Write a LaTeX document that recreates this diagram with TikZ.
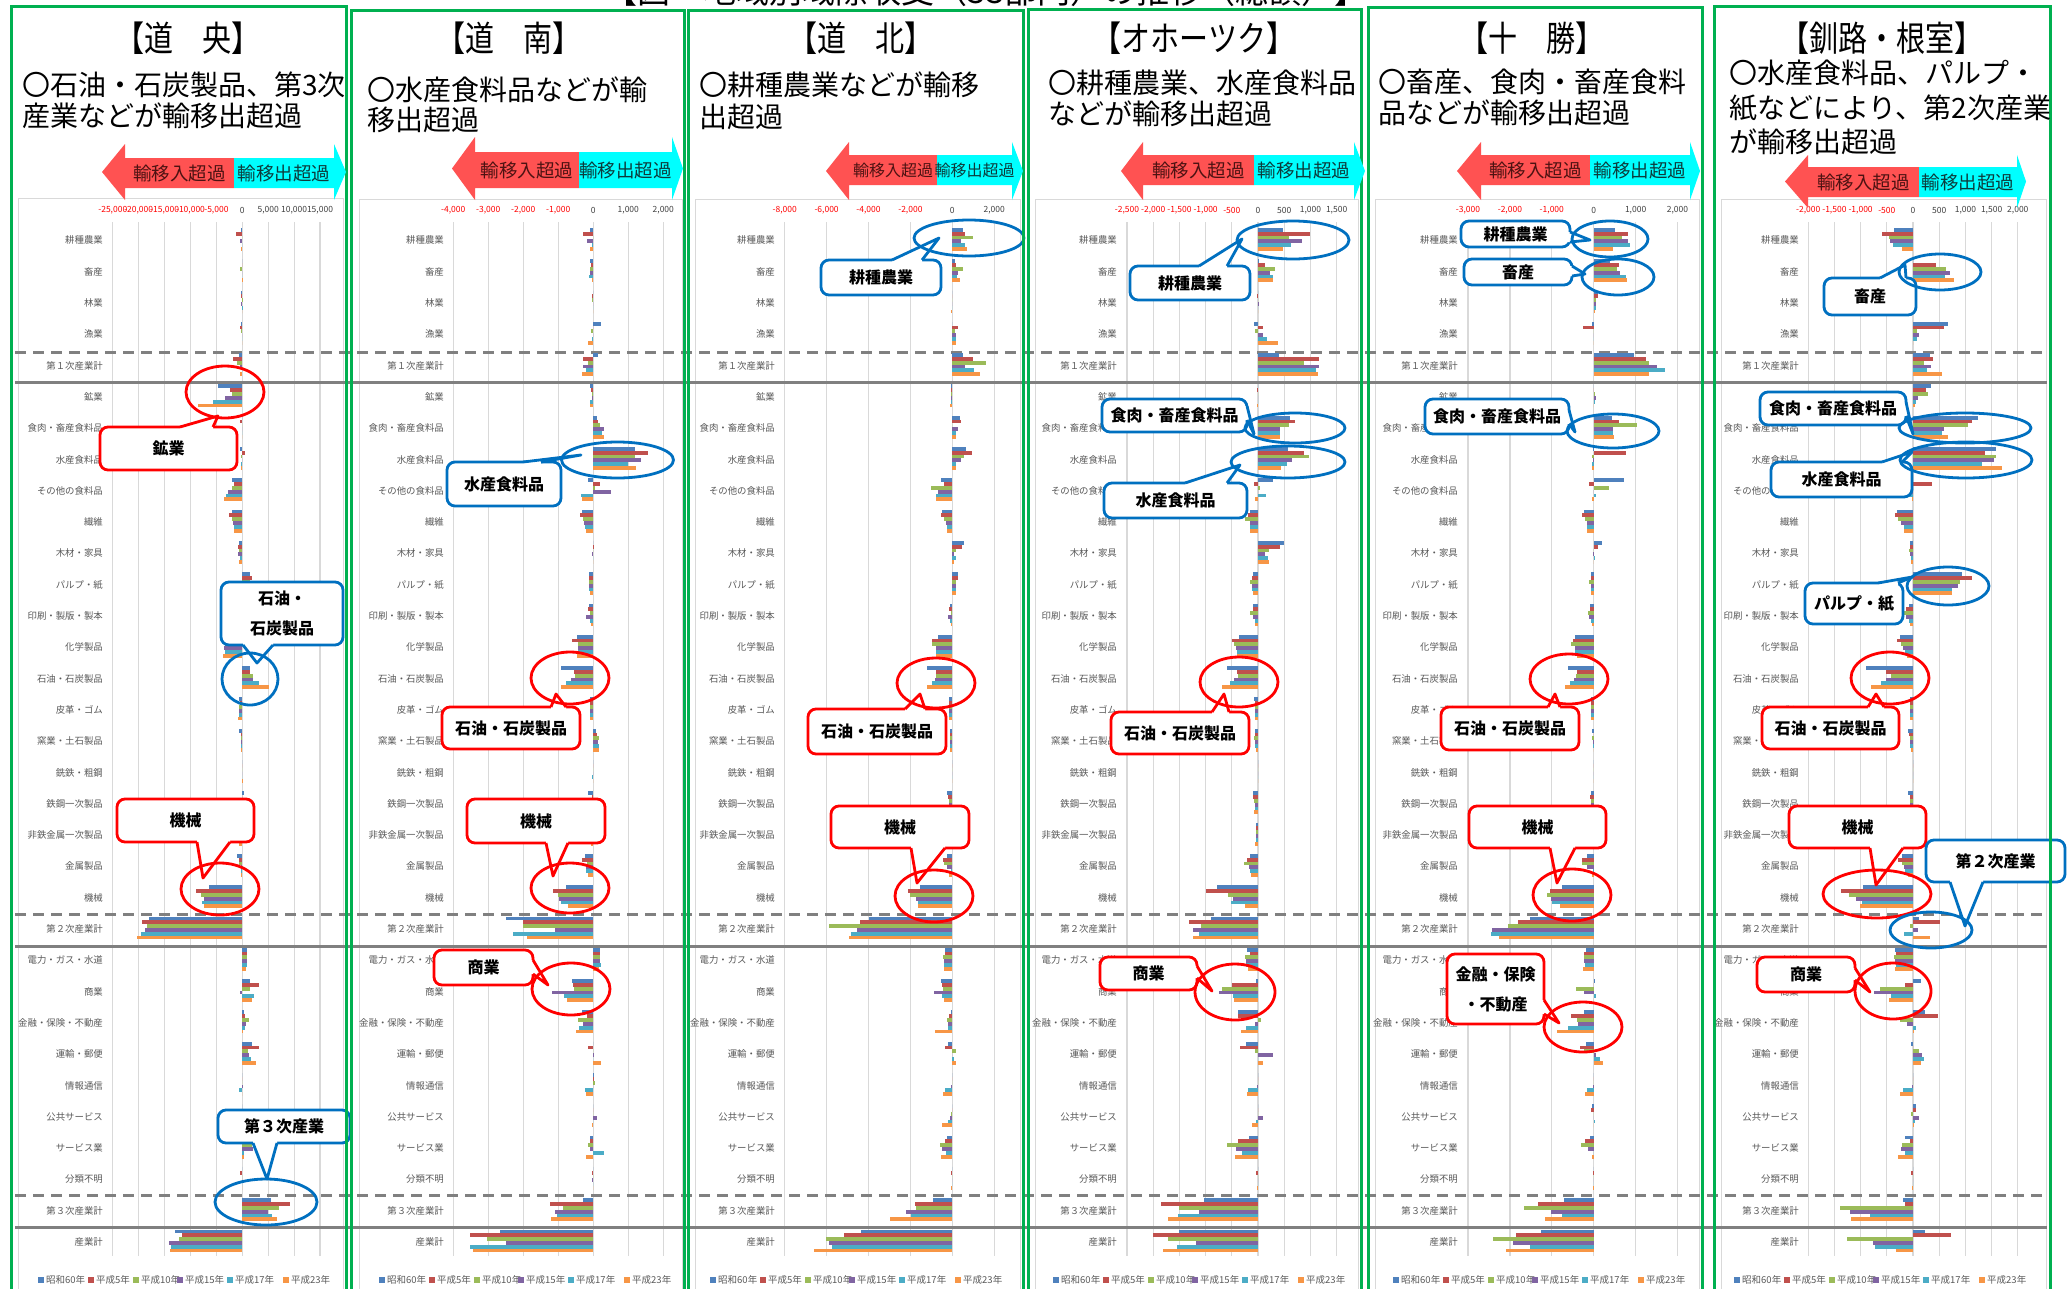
\documentclass[tikz,border=0pt]{standalone}
\usepackage{fontspec}
\setmainfont{Noto Sans CJK JP}
\newfontfamily\ttlfont[FakeStretch=0.83]{Noto Sans CJK JP}
\usetikzlibrary{calc}
\definecolor{bar1}{HTML}{4F81BD}
\definecolor{bar2}{HTML}{C0504D}
\definecolor{bar3}{HTML}{9BBB59}
\definecolor{bar4}{HTML}{8064A2}
\definecolor{bar5}{HTML}{4BACC6}
\definecolor{bar6}{HTML}{F79646}
\definecolor{grn}{HTML}{00B050}
\definecolor{cored}{HTML}{FF0000}
\definecolor{coblue}{HTML}{0070C0}
\definecolor{arrred}{HTML}{FF5252}
\definecolor{arrcyan}{HTML}{00FFFF}
\definecolor{arrtxtr}{HTML}{4D1212}
\definecolor{arrtxtc}{HTML}{0D3B3B}
\definecolor{lbl}{HTML}{595959}
\definecolor{gridc}{HTML}{D9D9D9}
\definecolor{sepc}{HTML}{808080}
\definecolor{tneg}{HTML}{FF0000}
\definecolor{tpos}{HTML}{404040}
\def\arrfs{18.5}
\tikzset{
 catlbl/.style={anchor=east, inner sep=0pt, text=lbl, font=\fontsize{9.4}{10}\selectfont},
 tick/.style={inner sep=0pt, font=\fontsize{8.5}{9}\selectfont},
 gridl/.style={draw=gridc, line width=1.2pt},
 dsep/.style={draw=sepc, line width=3pt, dash pattern=on 11pt off 7pt},
 ssep/.style={draw=sepc, line width=3pt},
 redc/.style={draw=cored, line width=2.8pt, line join=round},
 bluec/.style={draw=coblue, line width=2.8pt, line join=round},
 calltxt/.style={inner sep=0pt, align=center, font=\bfseries\fontsize{16}{30}\selectfont},
 panelbox/.style={draw=grn, line width=3pt},
 chartframe/.style={draw=gridc, line width=1pt},
 ttl/.style={font={\ttlfont\fontsize{35}{40}\selectfont}, inner sep=0pt},
 subt/.style={anchor=west, inner sep=0pt, font=\fontsize{28}{32}\selectfont},
 arrtxt/.style={inner sep=0pt, font=\fontsize{\arrfs}{20}\selectfont},
 legtxt/.style={anchor=west, inner sep=0pt, text=lbl, font=\fontsize{9.5}{10}\selectfont},
}
\def\cats{耕種農業,畜産,林業,漁業,第１次産業計,鉱業,食肉・畜産食料品,水産食料品,その他の食料品,繊維,木材・家具,パルプ・紙,印刷・製版・製本,化学製品,石油・石炭製品,皮革・ゴム,窯業・土石製品,銑鉄・粗鋼,鉄鋼一次製品,非鉄金属一次製品,金属製品,機械,第２次産業計,電力・ガス・水道,商業,金融・保険・不動産,運輸・郵便,情報通信,公共サービス,サービス業,分類不明,第３次産業計,産業計}
% #1 zero x, #2 label x, #3 legend x, #4 data, #5 id
\newcommand\drawpanel[5]{%
  \foreach \vals [count=\r] in {#4} {
    \foreach \v [count=\k] in \vals {
      \fill[bar\k] (#1,{240.4+31.3*(\r-1)-12.5+3.83*(\k-1)}) rectangle ++(\v,3.83);
    }
  }
  \foreach \c [count=\r] in \cats {\node[catlbl] (c#5-\r) at (#2,{240.4+31.3*(\r-1)}) {\c};}
  \foreach \o/\t [count=\k] in {0/昭和60年,50/平成5年,95/平成10年,139/平成15年,189/平成17年,245/平成23年} {
    \fill[bar\k] ({#3+\o},1277) rectangle ++(6,6);
    \node[legtxt] (lg#5-\k) at ({#3+\o+8},1280) {\t};
  }
}
% #1 zero, #2 step, #3 list k/color/text
\newcommand\axisticks[3]{%
  \foreach \k/\col/\t in {#3} {
    \draw[gridl] ({#1+\k*#2},222) -- ({#1+\k*#2},1256);
    \node[tick,text=\col] at ({#1+\k*#2},210) {\t};
  }
}
% callout: #1 style, #2 corner1, #3 corner2, #4 base1, #5 base2, #6 inward shift, #7 tip, #8 name, #9 text
\newcommand\callout[9]{%
  \draw[#1, fill=white, rounded corners=8pt] #2 rectangle #3;
  \fill[white] ($#4+#6$) -- #4 -- #7 -- #5 -- ($#5+#6$) -- cycle;
  \draw[#1] #4 -- #7 -- #5;
  \node[calltxt] (#8) at ($#2!0.5!#3$) {#9};
}
% top arrow: #1 tip, #2 head base, #3 split, #4 cyan head base, #5 cyan tip, #6 head top, #7 head bottom, #8 body top, #9 body bottom
\newcommand\toparrow[9]{%
  \fill[arrred] (#1,{(#6+#7)/2}) -- (#2,#6) -- (#2,#8) -- (#3,#8) -- (#3,#9) -- (#2,#9) -- (#2,#7) -- cycle;
  \fill[arrcyan] (#3,#8) -- (#4,#8) -- (#4,#6) -- (#5,{(#6+#7)/2}) -- (#4,#7) -- (#4,#9) -- (#3,#9) -- cycle;
  \node[arrtxt,text=arrtxtr] at ({(#2+#3)/2},{(#8+#9)/2}) {輸移入超過};
  \node[arrtxt,text=arrtxtc] at ({(#3+#4)/2},{(#8+#9)/2}) {輸移出超過};
}
\begin{document}
\begin{tikzpicture}[x=1pt,y=-1pt]
\useasboundingbox (0,0) rectangle (2069,1288);
\clip (0,0) rectangle (2069,1288);
\fill[white] (0,0) rectangle (2069,1288);
% chart frames
\draw[chartframe] (18,198) rectangle (343,1300);
\draw[chartframe] (359,199) rectangle (682,1300);
\draw[chartframe] (695,199) rectangle (1020,1300);
\draw[chartframe] (1035,199) rectangle (1358,1300);
\draw[chartframe] (1375,199) rectangle (1699,1300);
\draw[chartframe] (1721,199) rectangle (2046,1300);
% axes
\axisticks{242.3}{25.9}{-5/tneg/-25{,}000,-4/tneg/-20{,}000,-3/tneg/-15{,}000,-2/tneg/-10{,}000,-1/tneg/-5{,}000,0/tpos/0,1/tpos/5{,}000,2/tpos/10{,}000,3/tpos/15{,}000}
\axisticks{593.3}{35}{-4/tneg/-4{,}000,-3/tneg/-3{,}000,-2/tneg/-2{,}000,-1/tneg/-1{,}000,0/tpos/0,1/tpos/1{,}000,2/tpos/2{,}000}
\axisticks{952.3}{41.9}{-4/tneg/-8{,}000,-3/tneg/-6{,}000,-2/tneg/-4{,}000,-1/tneg/-2{,}000,0/tpos/0,1/tpos/2{,}000}
\axisticks{1258}{26.2}{-5/tneg/-2{,}500,-4/tneg/-2{,}000,-3/tneg/-1{,}500,-2/tneg/-1{,}000,-1/tneg/-500,0/tpos/0,1/tpos/500,2/tpos/1{,}000,3/tpos/1{,}500}
\axisticks{1593.7}{41.9}{-3/tneg/-3{,}000,-2/tneg/-2{,}000,-1/tneg/-1{,}000,0/tpos/0,1/tpos/1{,}000,2/tpos/2{,}000}
\axisticks{1913}{26.2}{-4/tneg/-2{,}000,-3/tneg/-1{,}500,-2/tneg/-1{,}000,-1/tneg/-500,0/tpos/0,1/tpos/500,2/tpos/1{,}000,3/tpos/1{,}500,4/tpos/2{,}000}
% separators
\draw[dsep] (15,352) -- (2047,352);
\draw[ssep] (15,382) -- (2047,382);
\draw[dsep] (15,914) -- (2047,914);
\draw[ssep] (15,946) -- (2047,946);
\draw[dsep] (15,1195) -- (2047,1195);
\draw[ssep] (15,1227) -- (2047,1227);
% panel 1
\drawpanel{242.3}{103}{38}{{-1,-6,0,-2.5,0,-1},{0,0,-2,0,0,1},{-1,-1,-0.5,-1,-0.5,0},{-1,-2,-1,0,0,0},{-3,-9,-5,-2,0,-2},{-24,-12.3,-10.7,-17.3,-29,-44},{0,-2,0,0,0,0},{-2,3,-1,0,-1,-1},{-10,-8.3,-10,-14.7,-16.7,-18.3},{-10.7,-13,-10,-9.7,-8,-8},{-3,-4,-3.7,-4,-2.3,-3},{8,10,7.3,6.3,5,5},{-1,0,-1,0,1,-0.5},{-13,-18,-17,-18,-17,-19},{7.7,7.7,10.3,11,16.3,26.3},{-3,-2,-3,-3,-3,-4},{-3,-1,-1,-1.5,-1,-1},{0,0,0,0,0,1},{2,0,0,1,7,8},{-1,-2,-2,-2,-2,-3},{-5,-3,-3,-1,-1,-1},{-33,-46,-41,-38,-40,-38},{-93,-100,-95,-97,-101,-105},{5,5,5,5,5,4},{7.7,17,7.3,-2,11.7,9.7},{2,3,7,4,3,1},{9.3,16.3,5.7,6.3,8.3,13.7},{0,0,0,1,-3,0},{0,0,0,-1,-1,0},{3,6,10,11,2,2},{0,-2,0,0,0,0},{29,47.7,36.3,26,29.7,34.3},{-67,-60.7,-63.3,-73,-71.7,-72.3}}{1}
% panel 2
\drawpanel{593.3}{444}{379}{{-3,-10,0,-6,-1,-3},{-3,-2,-3,-3,-4,-1},{0,-1,-1,0,0,0},{8,0,-2,0,-1,-5},{5,-10.7,-5.3,-10,-7,-11},{-3,-2,-1,-1,-3,-3},{3.3,5,6.7,11,8.3,10.3},{41.7,54.3,41.7,47.7,34.3,43},{-5.3,6.3,2,17.3,-12,-11},{-11.3,-13.7,-10.7,-9.7,-8.7,-7},{0,1,0,-1,0,0},{-4,-4,-4,-4,-4,-3},{-4,-5,-3,-7,-3,-2},{-16.3,-21.3,-15.3,-15.3,-15.3,-16.3},{-32,-19.7,-18,-22,-27.3,-32.3},{-3,-3,-3,-3,-3,-3},{3,4,6,5,6,6},{0,0,0,0,-1,0},{-5,-1,-3,-3,-4,-3},{-1,-2,-2,-2,-2,-2},{-8,-11,-6,-7,-7,-5},{-27.7,-40.7,-35.7,-34,-32.3,-25},{-87.7,-70,-70.7,-38.7,-80,-66.7},{7,7,7,7,8,6},{-21,-20.7,-19,-41,-29.7,-26.7},{-11.3,-6,-15.3,-10,-14.3,-17.3},{0,-5,0,1,0,8},{1,1,2,0,-8,-7},{0,0,0,4,0,-1},{-3,-3,-5,-3,11,-7},{0,-1,0,-1,0,0},{-10.7,-43,-30.3,-38.3,-36.3,-42.3},{-93.3,-123.7,-106.7,-87.7,-123.3,-120.7}}{2}
% panel 3
\drawpanel{952.3}{775}{710}{{10.3,12.3,20.7,8.7,12.7,14.7},{2.7,3.3,10.3,5.7,4.7,7.7},{0,0,0,0,0,-1},{0,5.3,2.7,3.3,4,4},{10.7,20.7,33.3,12.7,22,27.3},{-1,-1,-1,-1,-1,-2},{7.7,8.7,0,5.3,3.3,4},{13.7,19.3,12,8.7,4,4},{-11.3,-8.3,-21.7,-14.7,-16.3,-16.3},{-10.3,-11.3,-8.3,-6.3,-5.3,-5.3},{11.3,10,3.3,2,3.3,1.3},{6,5.3,3.3,4,3.3,4},{-2,-3,-1,-4,-2,-1},{-14,-20,-20,-16,-16,-16},{-25.3,-16,-16,-17,-20.3,-25},{-3,-3,-3,-3,-3,-3},{-2,-2,-2,-2,-2,-2},{0,0,0,0,0,0},{-5,-4,-3,-3,-3,-3},{-1,-1,-1,-1,-1,-1},{-5.3,-9.3,-8,-5.3,-1,-3.3},{-32.3,-44.7,-42.7,-36,-34.7,-34.3},{-83.7,-92.3,-123,-95.3,-101.3,-103.3},{-7,-7,-9,-8,-8,-8},{-11.3,-10.3,-9,-18.7,-10,-8},{-1.3,-3,-5,-4.3,-4.7,-17.7},{-4.7,-7,3.3,0,2,3.3},{0,0,0,-1,-7,-9},{0,0,-1,-2,-4,-10},{-5.3,-7,-12.3,-10.3,-6,-11.3},{0,-1,0,0,0,-1},{-19.7,-37.7,-36.7,-46,-41.3,-62},{-91.3,-108.3,-126,-123.7,-120.3,-138.3}}{3}
% panel 4
\drawpanel{1258}{1117}{1053}{{25,52.3,31.3,44.3,32.7,25},{1.3,7,17,12,14.7,14.7},{0,-1,0,1,0,0},{-4.3,4.7,-3,4.7,9.3,20.3},{21.3,61.3,45.7,61.3,58,59.7},{0,-1,0,0,0,-1},{32.3,36.7,30.7,22,22.3,22.3},{29.7,45.7,51,34,28.7,23},{14.7,-3.7,1.7,0,8.3,-3},{-7.7,-9.7,-12.7,-8.3,-8.3,-8.3},{26,21.7,11.3,6.7,9.7,11},{-5.3,-6,-7.7,-6,-6,-5.3},{-5,-5,-8,-5,-3,-3},{-19,-25.7,-23.7,-21.7,-21,-21},{-31,-21,-20,-23.7,-28,-35.7},{-4,-3,-3,-3,-3,-3},{-3,-3,-4,-3,-3,-2},{0,0,0,0,0,0},{-5,-5,-4,-3,-3,-4},{-2,-2,-2,-2,-2,-3},{-7.7,-11.3,-14.3,-9,-8.3,-6.7},{-41,-51.7,-30.3,-25,-27.3,-12.7},{-46.7,-69.3,-57,-64.7,-59,-65.3},{-10.7,-8.3,-13.3,-11.7,-11.7,-10},{-2,-25.7,-36,-38.7,-25.3,-23.7},{-19.7,-20,2.7,-3,-11.7,-16.7},{-11.7,-17.7,-3,15.3,0,4.7},{0,0,0,-1,-10,-11},{0,0,0,5,-2,-6},{-9.3,-20,-30.7,-21.7,-16,-22.7},{0,-2,0,0,0,-1},{-53.7,-96.7,-78.7,-58.7,-80.3,-89.7},{-78.7,-105.3,-90,-62,-81,-95.3}}{4}
% panel 5
\drawpanel{1593.7}{1458}{1393}{{21.3,34.7,28.3,34.7,36,19},{16.7,25.3,23,26.7,32.3,33.7},{4,4,2,2,2,1},{-2,-11,0,0,0,0},{40,52.7,55,63.3,71,55.3},{0,0,1,2,1,0},{18,25.3,43.3,19.7,19,20.3},{-1,32.3,-2,-1,-1.3,-2},{30.3,-5,15,0,2.7,-1.3},{-9.7,-11.7,-8.7,-6.7,-7,-6.7},{8,4,0,-1,1,0},{-3,-3,-5,-3,-3,-3},{-4,-4,-6,-5,-3,-2},{-19,-20.3,-22.3,-18.3,-19,-17},{-25.7,-16.7,-17.7,-19.7,-23.7,-28.7},{-3,-3,-3,-3,-3,-3},{-2,0,-2,-1,-1,0},{0,0,0,0,0,0},{-3,-4,-3,-3,-3,-2},{-1,-1,-1,-1,-1,-1},{-6.7,-12,-11.3,-6.7,-1,-1.3},{-31.7,-43.3,-46.3,-42.7,-41.7,-33.3},{-63.7,-75.3,-85.7,-101.7,-102.7,-94.3},{-8,-9.3,-10,-9.3,-8.7,-10.7},{1,0,-17.7,-10,2.7,0},{-9.3,-22.7,-16.7,-16,-25.3,-36.3},{-7.7,-13.3,-10,2,6,9.7},{0,0,0,-1,-7,-9},{-2,-3,0,0,1,0},{-4,-9,-12.3,-5.7,0,-1.3},{0,-1,0,0,0,-1},{-29.7,-55.7,-70,-43,-32,-48.7},{-52.7,-78,-100.7,-80.7,-63.3,-87.3}}{5}
% panel 6
\drawpanel{1913}{1799}{1734}{{-19,-30.7,-24.3,-23,-20.3,-11},{0,22.7,33,37,32.3,41},{0,-1,0,0,0,0},{35,31,4,6,4,0},{16.7,20,11.3,18,14.3,28.7},{17.7,13.3,14.7,4.7,3,2},{65.3,59,54.7,31,29,35.3},{83,72.3,83,81,69,88.7},{-23.3,19,-29.3,-2,-5.7,-1.3},{-15.7,-17.7,-14.7,-12.3,-9.3,-9.3},{-3,-3,-4,-3,-2,-2},{49,58.7,47,44.7,39.3,38.7},{-4.3,-6.7,-8.7,-7,-3.7,-3},{-13.3,-16.3,-12,-9.7,-8,-6},{-46.7,-27,-22.3,-27,-32,-42},{-3,-3,-3,-3,-3,-3},{-5,-4,-3,-3,-3,-2},{0,0,0,0,0,0},{-5,-3,-3,-3,-3,-2},{-1,-1,-1,-1,-1,-1},{-11.3,-14.7,-11.3,-9.3,-8.3,-5},{-49.7,-72,-63.7,-56.7,-51.3,-53.3},{6,27,-3,4.7,-8.7,17},{-18,-16.7,-18.7,-18,-16.7,-18.3},{8.3,-8.3,-32.7,-38.7,-21.7,-24},{11.7,24.7,-12.7,-6.3,2.7,1.3},{-1.7,0,6,8.7,11,8},{0,0,0,-1,-10,-13},{3,3,-2,6,2,1},{-8.3,-3,-10.7,-12.3,-8.3,-14.7},{0,-2,0,0,0,-1},{-10,-8,-73.3,-62.7,-43.3,-62},{12,38.3,-65.7,-40,-37.7,-17}}{6}
% callouts panel 1
\callout{redc}{(100,427)}{(237,470)}{(180,427)}{(213,427)}{(0,3)}{(218,416)}{k11}{鉱業}
\callout{bluec}{(221,582)}{(343,645)}{(243,645)}{(273,645)}{(0,-3)}{(257,663)}{k12}{石油・\\石炭製品}
\callout{redc}{(117,799)}{(254,842)}{(197,842)}{(230,842)}{(0,-3)}{(203,878)}{k13}{機械}
\callout{bluec}{(218,1110)}{(350,1143)}{(253,1143)}{(277,1143)}{(0,-3)}{(267,1179)}{k14}{第３次産業}
\draw[redc] (225,392) ellipse [x radius=39pt, y radius=26pt];
\draw[bluec] (250,679) ellipse [x radius=28pt, y radius=26pt];
\draw[redc] (220,889) ellipse [x radius=39pt, y radius=26pt];
\draw[bluec] (266,1202) ellipse [x radius=51pt, y radius=23pt];
% panel 2
\callout{bluec}{(447,462)}{(561,506)}{(523,462)}{(541,462)}{(0,3)}{(581,455)}{k21}{水産食料品}
\callout{redc}{(442,707)}{(580,749)}{(551,707)}{(566,707)}{(0,3)}{(556,694)}{k22}{石油・石炭製品}
\callout{redc}{(467,799)}{(605,843)}{(546,843)}{(568,843)}{(0,-3)}{(553,876)}{k23}{機械}
\callout{redc}{(434,950)}{(533,985)}{(533,960)}{(533,974)}{(-3,0)}{(548,985)}{k24}{商業}
\draw[bluec] (617.5,460) ellipse [x radius=56pt, y radius=18pt];
\draw[redc] (570,678) ellipse [x radius=39pt, y radius=26pt];
\draw[redc] (570,888) ellipse [x radius=39pt, y radius=25pt];
\draw[redc] (571,989) ellipse [x radius=39pt, y radius=26pt];
% panel 3
\callout{bluec}{(821,260)}{(941,295)}{(892,260)}{(922,260)}{(0,3)}{(939,238)}{k31}{耕種農業}
\callout{redc}{(808,709)}{(946,754)}{(905,709)}{(925,709)}{(0,3)}{(920,694)}{k32}{石油・石炭製品}
\callout{redc}{(831,806)}{(969,848)}{(911,848)}{(945,848)}{(0,-3)}{(917,883)}{k33}{機械}
\draw[bluec] (969,238) ellipse [x radius=55pt, y radius=18pt];
\draw[redc] (936,683) ellipse [x radius=39pt, y radius=25pt];
\draw[redc] (934,896) ellipse [x radius=39pt, y radius=26pt];
% panel 4
\callout{bluec}{(1130,266)}{(1250,300)}{(1199,266)}{(1227,266)}{(0,3)}{(1242,239)}{k41}{耕種農業}
\callout{bluec}{(1102,399)}{(1247,432)}{(1247,406)}{(1247,420)}{(-3,0)}{(1254,434)}{k42}{食肉・畜産食料品}
\callout{bluec}{(1104,483)}{(1247,518)}{(1185,483)}{(1227,483)}{(0,3)}{(1240,465)}{k43}{水産食料品}
\callout{redc}{(1111,712)}{(1249,754)}{(1212,712)}{(1229,712)}{(0,3)}{(1224,694)}{k44}{石油・石炭製品}
\callout{redc}{(1100,957)}{(1197,990)}{(1197,966)}{(1197,978)}{(-3,0)}{(1212,991)}{k45}{商業}
\draw[bluec] (1293,240) ellipse [x radius=56pt, y radius=19pt];
\draw[bluec] (1295,428) ellipse [x radius=50pt, y radius=15pt];
\draw[bluec] (1288,462) ellipse [x radius=57pt, y radius=16pt];
\draw[redc] (1239,682) ellipse [x radius=39pt, y radius=25pt];
\draw[redc] (1235,992) ellipse [x radius=40pt, y radius=28pt];
% panel 5
\callout{bluec}{(1461,221)}{(1570,247)}{(1570,232)}{(1570,242)}{(-3,0)}{(1590,240)}{k51}{耕種農業}
\callout{bluec}{(1464,259)}{(1572,285)}{(1572,266)}{(1572,276)}{(-3,0)}{(1585,274)}{k52}{畜産}
\callout{bluec}{(1425,399)}{(1569,434)}{(1569,410)}{(1569,424)}{(-3,0)}{(1575,432)}{k53}{食肉・畜産食料品}
\callout{redc}{(1441,707)}{(1579,750)}{(1548,707)}{(1560,707)}{(0,3)}{(1555,694)}{k54}{石油・石炭製品}
\callout{redc}{(1469,806)}{(1606,848)}{(1550,848)}{(1575,848)}{(0,-3)}{(1557,883)}{k55}{機械}
\callout{redc}{(1447,954)}{(1544,1024)}{(1544,1000)}{(1544,1014)}{(-3,0)}{(1559,1023)}{k56}{金融・保険\\・不動産}
\draw[bluec] (1610,239) ellipse [x radius=38pt, y radius=18pt];
\draw[bluec] (1618,277) ellipse [x radius=36pt, y radius=18pt];
\draw[bluec] (1613,431) ellipse [x radius=46pt, y radius=17pt];
\draw[redc] (1569,679) ellipse [x radius=39pt, y radius=25pt];
\draw[redc] (1572,895) ellipse [x radius=39pt, y radius=26pt];
\draw[redc] (1583,1027) ellipse [x radius=39pt, y radius=25pt];
% panel 6
\callout{bluec}{(1824,278)}{(1916,315)}{(1880,278)}{(1906,278)}{(0,3)}{(1905,265)}{k61}{畜産}
\callout{bluec}{(1760,392)}{(1906,425)}{(1906,402)}{(1906,416)}{(-3,0)}{(1913,434)}{k62}{食肉・畜産食料品}
\callout{bluec}{(1771,462)}{(1912,497)}{(1882,462)}{(1902,462)}{(0,3)}{(1912,452)}{k63}{水産食料品}
\callout{bluec}{(1805,583)}{(1903,624)}{(1878,583)}{(1898,583)}{(0,3)}{(1912,577)}{k64}{パルプ・紙}
\callout{redc}{(1762,707)}{(1899,749)}{(1868,707)}{(1884,707)}{(0,3)}{(1876,694)}{k65}{石油・石炭製品}
\callout{redc}{(1789,806)}{(1926,848)}{(1870,848)}{(1903,848)}{(0,-3)}{(1876,885)}{k66}{機械}
\callout{bluec}{(1926,840)}{(2065,882)}{(1950,882)}{(1983,882)}{(0,-3)}{(1965,926)}{k67}{第２次産業}
\callout{redc}{(1757,957)}{(1855,992)}{(1855,968)}{(1855,980)}{(-3,0)}{(1870,992)}{k68}{商業}
\draw[bluec] (1940,272) ellipse [x radius=41pt, y radius=18pt];
\draw[bluec] (1965,428) ellipse [x radius=66pt, y radius=15pt];
\draw[bluec] (1966,460) ellipse [x radius=66pt, y radius=18pt];
\draw[bluec] (1948,586) ellipse [x radius=41pt, y radius=19pt];
\draw[redc] (1890,678) ellipse [x radius=39pt, y radius=26pt];
\draw[redc] (1877,894) ellipse [x radius=54pt, y radius=24pt];
\draw[bluec] (1931,930) ellipse [x radius=41pt, y radius=18pt];
\draw[redc] (1893,991) ellipse [x radius=38pt, y radius=28pt];
% panel borders
\draw[panelbox] (11,6) rectangle (346,1300);
\draw[panelbox] (351,10) rectangle (684,1300);
\draw[panelbox] (688,10) rectangle (1023,1300);
\draw[panelbox] (1028,9) rectangle (1361,1300);
\draw[panelbox] (1368,7) rectangle (1702,1300);
\draw[panelbox] (1714,6) rectangle (2050,1300);
% top arrows
\toparrow{102}{125}{234}{334}{346}{144}{200}{158}{188}
\toparrow{452}{475}{579}{672}{683}{137}{200}{152}{188}
\def\arrfs{16}
\toparrow{826}{849}{937}{1012}{1023}{142}{200}{155}{185}
\def\arrfs{18.5}
\toparrow{1121}{1143}{1254}{1354}{1365}{142}{200}{155}{185}
\toparrow{1457}{1481}{1590}{1690}{1700}{142}{200}{155}{185}
\toparrow{1785}{1808}{1919}{2017}{2026}{155}{208}{167}{197}
% titles
\node[ttl] (t1) at (188,38) {【道　央】};
\node[ttl] (t2) at (509,38) {【道　南】};
\node[ttl] (t3) at (861,38) {【道　北】};
\node[ttl] (t4) at (1194,38) {【オホーツク】};
\node[ttl] (t5) at (1532,38) {【十　勝】};
\node[ttl] (t6) at (1882,38) {【釧路・根室】};
% subtitles
\node[subt] (s11) at (22,85) {〇石油・石炭製品、第3次};
\node[subt] (s12) at (22,116) {産業などが輸移出超過};
\node[subt] (s21) at (367,90) {〇水産食料品などが輸};
\node[subt] (s22) at (367,120) {移出超過};
\node[subt] (s31) at (699,85) {〇耕種農業などが輸移};
\node[subt] (s32) at (699,117) {出超過};
\node[subt] (s41) at (1048,83) {〇耕種農業、水産食料品};
\node[subt] (s42) at (1048,114) {などが輸移出超過};
\node[subt] (s51) at (1378,82) {〇畜産、食肉・畜産食料};
\node[subt] (s52) at (1378,113) {品などが輸移出超過};
\node[subt] (s61) at (1729,73) {〇水産食料品、パルプ・};
\node[subt] (s62) at (1729,108) {紙などにより、第2次産業};
\node[subt] (s63) at (1729,142) {が輸移出超過};
% main title (cut off at top, as in the reference)
\node[anchor=base, inner sep=0pt, font=\fontsize{33}{36}\selectfont] (mt) at (986,3) {【図　地域別域際収支（33部門）の推移（総額）】};
\end{tikzpicture}
\end{document}
